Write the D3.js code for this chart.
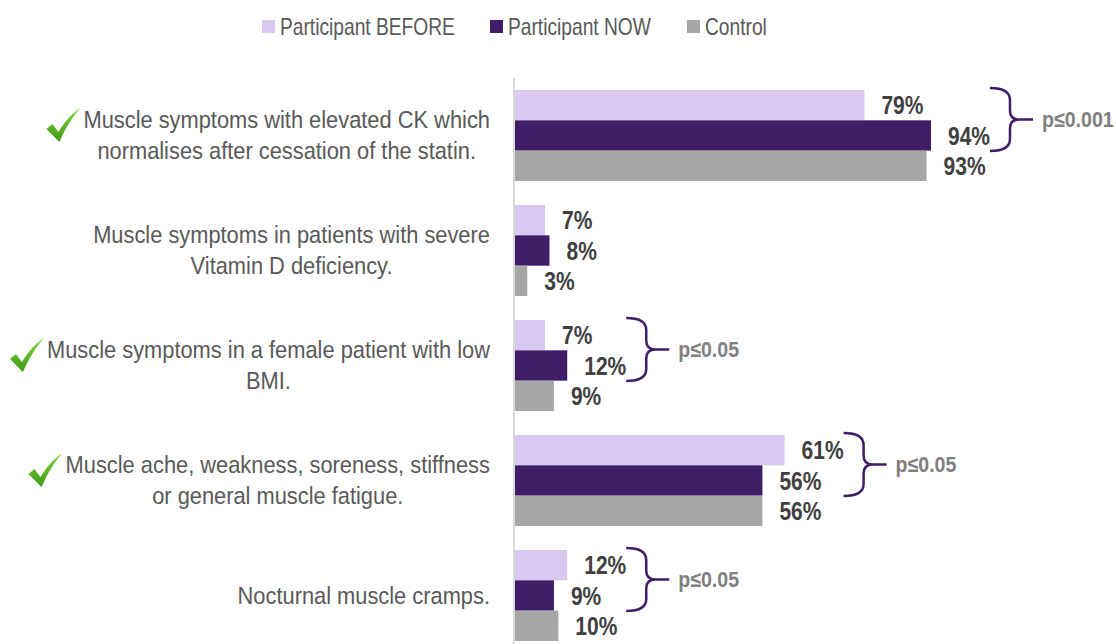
<!DOCTYPE html>
<html lang="en">
<head>
<meta charset="utf-8">
<title>Statin muscle symptoms</title>
<script src="https://d3js.org/d3.v7.min.js"></script>
<style>
  body { margin: 0; background: #fff; }
  svg text { font-family: "Liberation Sans", Arial, sans-serif; }
</style>
</head>
<body>
<div id="chart"></div>
<script>
// data
var categories = [
  ["Muscle symptoms with elevated CK which", "normalises after cessation of the statin."],
  ["Muscle symptoms in patients with severe", "Vitamin D deficiency."],
  ["Muscle symptoms in a female patient with low", "BMI."],
  ["Muscle ache, weakness, soreness, stiffness", "or general muscle fatigue."],
  ["Nocturnal muscle cramps."]
];
var seriesNames = ["Participant BEFORE", "Participant NOW", "Control"];
var before  = [79, 7, 7, 61, 12];
var now     = [94, 8, 12, 56, 9];
var control = [93, 3, 9, 56, 10];
var ticked  = [true, false, true, true, false];
var pLabels = ["p\u22640.001", null, "p\u22640.05", "p\u22640.05", "p\u22640.05"];

var colors = ["#d9c8f0", "#3f1d67", "#a6a6a6"];

var w = 1116, h = 644;
var svg = d3.select("#chart").append("svg")
    .attr("width", w).attr("height", h);

var defs = svg.append("defs");
var grad = defs.append("linearGradient").attr("id", "tickGrad")
  .attr("x1", "0").attr("y1", "0").attr("x2", "0").attr("y2", "1");
grad.append("stop").attr("offset", "0").attr("stop-color", "#86d543");
grad.append("stop").attr("offset", "1").attr("stop-color", "#3c9a12");

// narrow text: the reference uses a condensed face, so squeeze Liberation Sans
function narrow(parent, x, y, sx) {
  return parent.append("g")
    .attr("transform", "translate(" + x + "," + y + ") scale(" + sx + ",1)")
    .append("text");
}

var xScale = d3.scaleLinear().domain([0, 100]).range([514, 957.6]);
var yScale = d3.scaleBand()
    .domain(d3.range(categories.length))
    .range([78, 653])
    .paddingInner(0.209)
    .paddingOuter(0.1045);
var sub = d3.scaleBand().domain([0, 1, 2]).range([0, yScale.bandwidth()]);

var rows = categories.map(function(c, i) {
  return { i: i, vals: [before[i], now[i], control[i]] };
});

// legend
var legendX = [262, 490, 687];
seriesNames.forEach(function(name, i) {
  svg.append("rect").attr("x", legendX[i]).attr("y", 20).attr("width", 13).attr("height", 13)
    .attr("fill", colors[i]);
  narrow(svg, legendX[i] + 18, 27, 0.8)
    .attr("dy", "0.35em").style("font-size", "24px").attr("fill", "#595959").text(name);
});

// axis line
svg.append("line").attr("x1", xScale(0)).attr("x2", xScale(0))
  .attr("y1", 78).attr("y2", h).attr("stroke", "#d9d9d9").attr("stroke-width", 2);

var groups = svg.selectAll(".grp").data(rows).enter()
  .append("g").attr("transform", function(d) { return "translate(0," + yScale(d.i) + ")"; });

groups.selectAll("rect").data(function(d) { return d.vals; }).enter()
  .append("rect")
  .attr("x", xScale(0) + 1)
  .attr("y", function(d, j) { return sub(j); })
  .attr("width", function(d) { return xScale(d) - xScale(0) - 1; })
  .attr("height", sub.bandwidth())
  .attr("fill", function(d, j) { return colors[j]; });

// value labels
groups.each(function(d) {
  var g = d3.select(this);
  d.vals.forEach(function(v, j) {
    narrow(g, xScale(v) + 17, sub(j) + sub.bandwidth() / 2, 0.84)
      .attr("dy", "0.36em")
      .style("font-size", "25px").style("font-weight", "bold")
      .attr("fill", "#404040")
      .text(v + "%");
  });
});

// category labels
var labelRight = 490, labelSx = 0.91;
groups.each(function(d) {
  var g = d3.select(this);
  var lines = categories[d.i];
  var mid = yScale.bandwidth() / 2;
  var lh = 31;
  var holder = g.append("g");
  var t = holder.append("text").style("font-size", "24px").attr("fill", "#595959")
    .attr("text-anchor", "middle");
  var spans = lines.map(function(l, k) {
    return t.append("tspan").attr("x", 0)
      .attr("y", mid + (k - (lines.length - 1) / 2) * lh)
      .attr("dy", "0.35em").text(l);
  });
  var w0 = spans[0].node().getComputedTextLength() * labelSx;
  var cx = labelRight - w0 / 2;
  holder.attr("transform", "translate(" + cx + ",0) scale(" + labelSx + ",1)");

  if (ticked[d.i]) {
    var left = labelRight - w0 - 3;
    var cy = mid - (lines.length - 1) / 2 * lh;
    g.append("path")
      .attr("transform", "translate(" + (left - 34) + "," + (cy - 12) + ")")
      .attr("d", "M0,21 L6,16 L12,24 C18,14 25,6 34,0 C26,9 19,20 13,34 Z")
      .attr("fill", "url(#tickGrad)");
  }
});

// braces with significance
groups.each(function(d) {
  var p = pLabels[d.i];
  if (!p) return;
  var g = d3.select(this);
  var x0 = xScale(Math.max(before[d.i], now[d.i])) + 59;
  var y0 = -2, y1 = 61, ym = (y0 + y1) / 2;
  var xm = x0 + 20, xt = x0 + 43;
  var path = "M" + x0 + "," + y0 +
    " Q" + xm + "," + y0 + " " + xm + "," + (y0 + 12) +
    " L" + xm + "," + (ym - 9) +
    " Q" + xm + "," + ym + " " + (xm + 9) + "," + ym +
    " L" + xt + "," + ym +
    " M" + (xm + 9) + "," + ym +
    " Q" + xm + "," + ym + " " + xm + "," + (ym + 9) +
    " L" + xm + "," + (y1 - 12) +
    " Q" + xm + "," + y1 + " " + x0 + "," + y1;
  g.append("path").attr("d", path).attr("fill", "none")
    .attr("stroke", "#3f1d67").attr("stroke-width", 2.5);
  narrow(g, x0 + 52, ym, 0.89).attr("dy", "0.35em")
    .style("font-size", "22px").style("font-weight", "bold")
    .attr("fill", "#808080").text(p);
});
</script>
</body>
</html>
